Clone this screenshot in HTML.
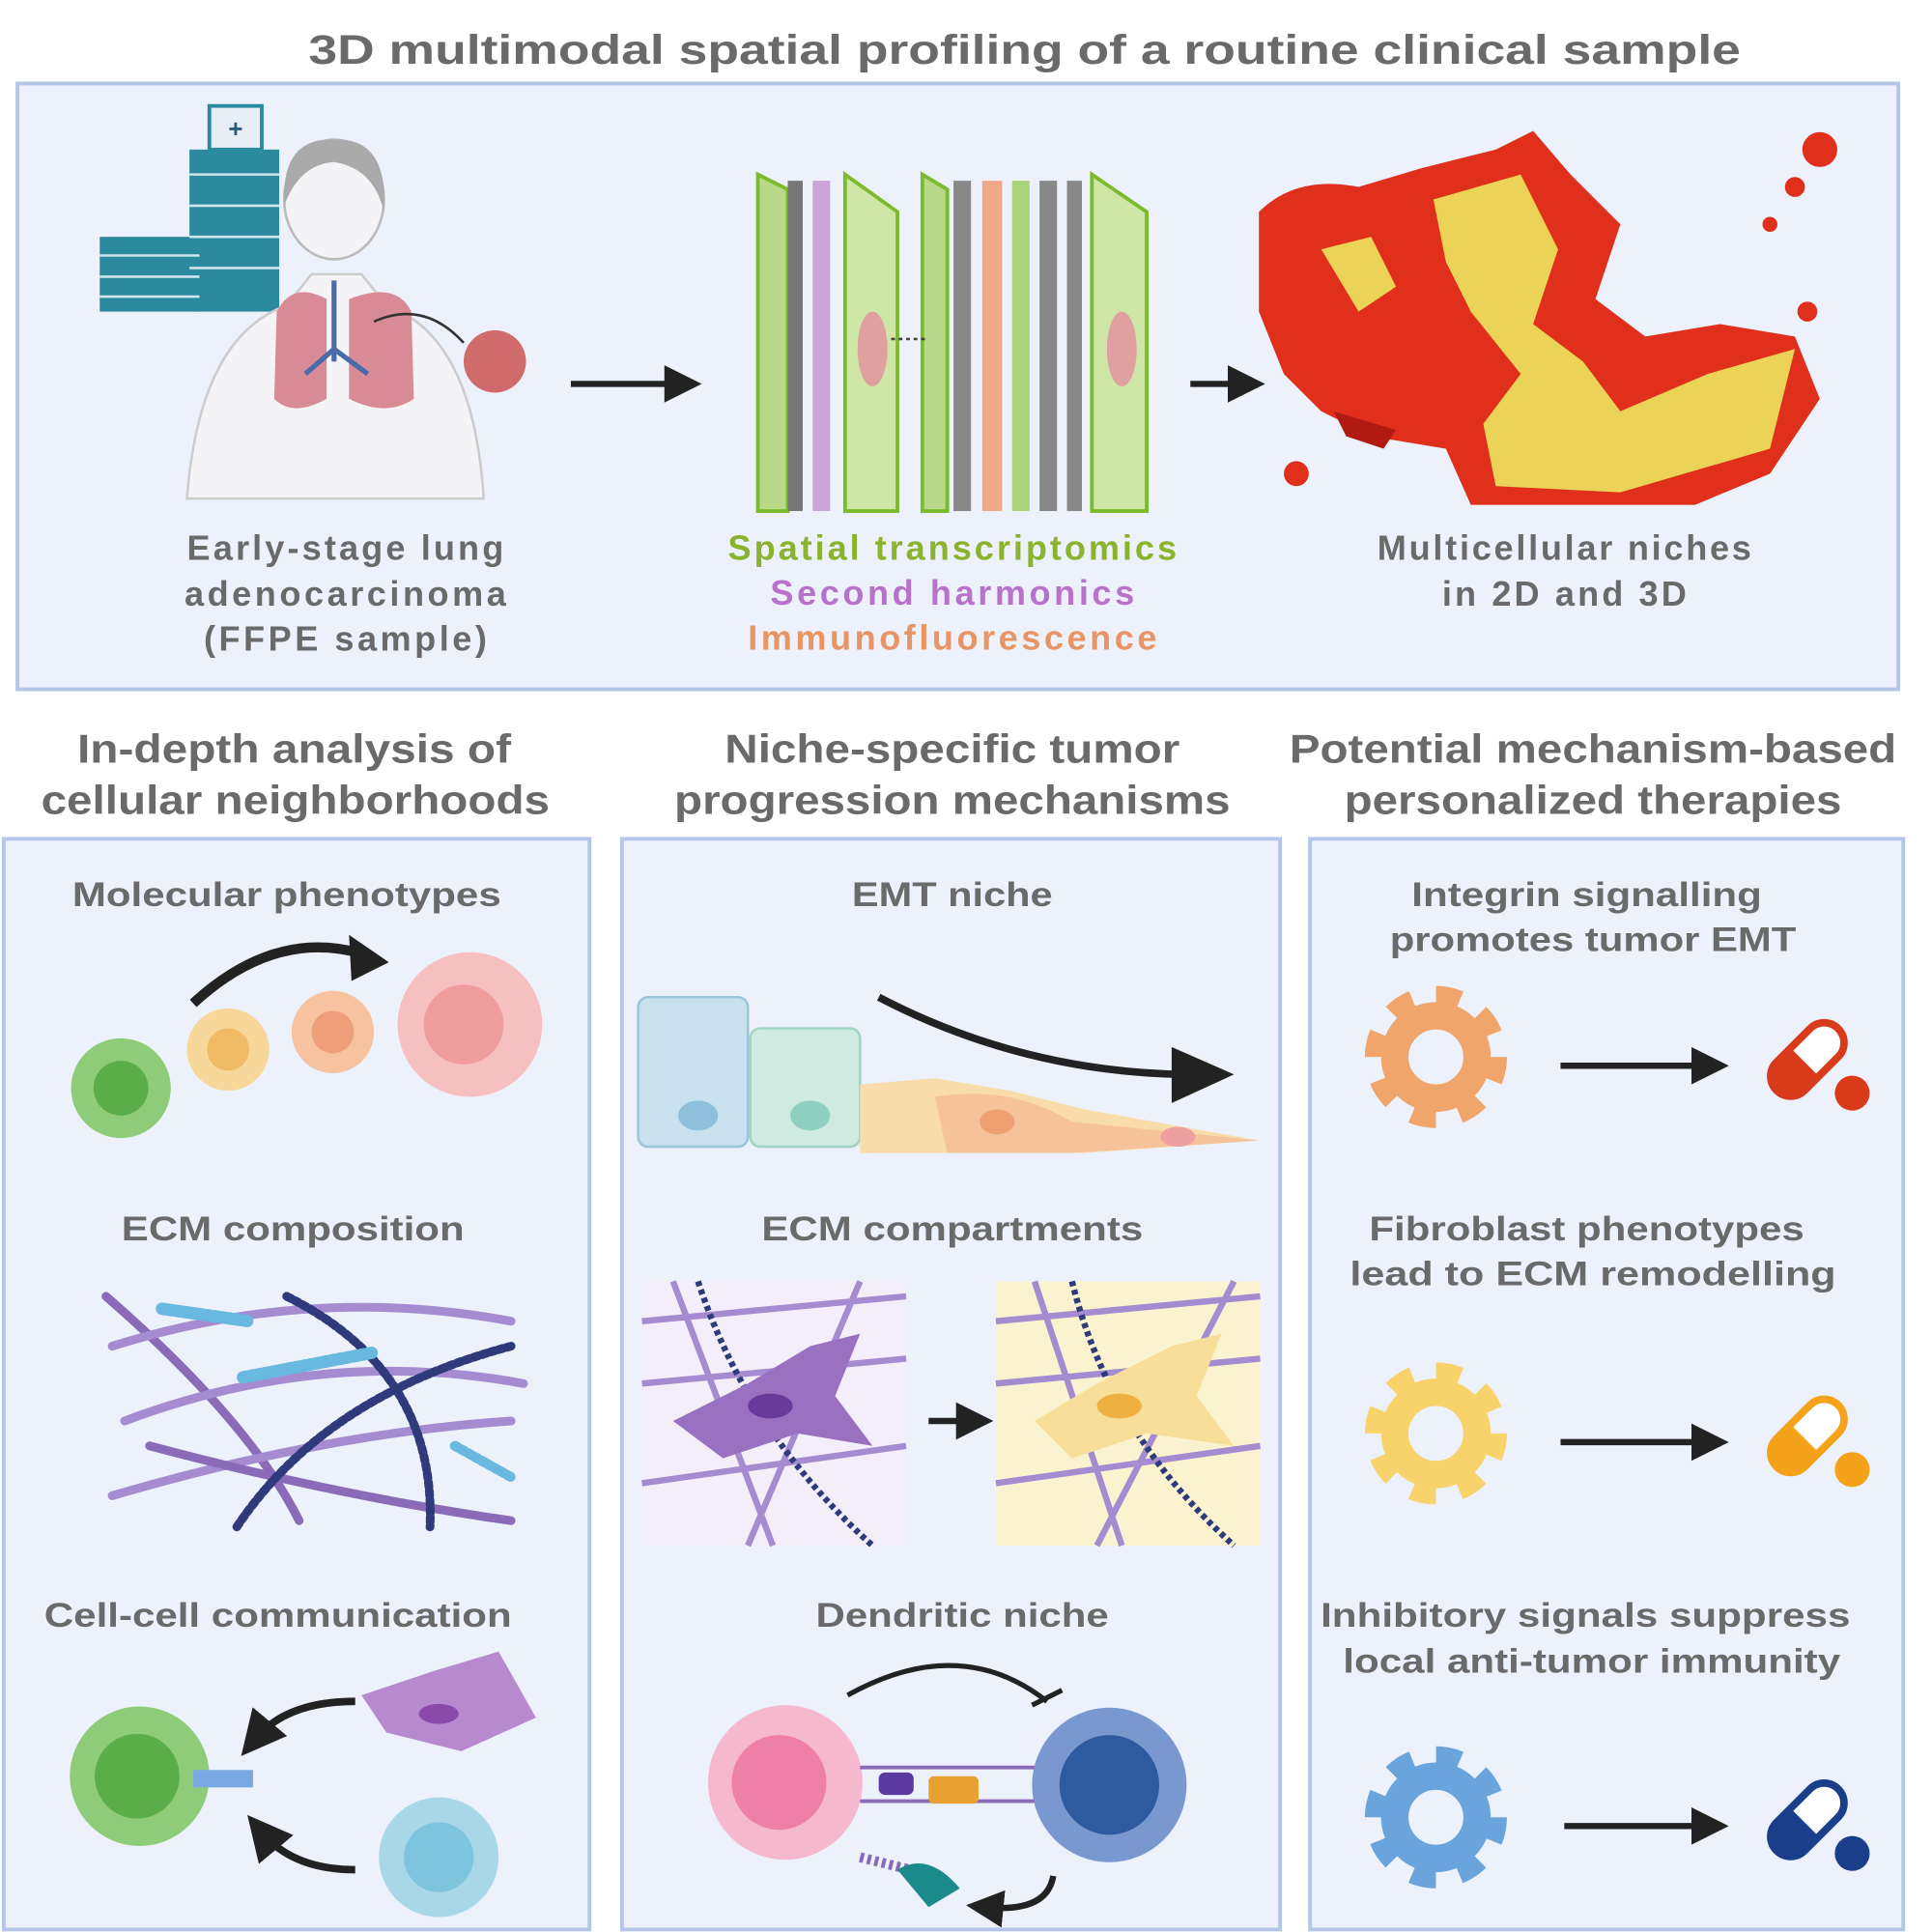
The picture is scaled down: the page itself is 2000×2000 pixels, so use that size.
<!DOCTYPE html>
<html><head><meta charset="utf-8"><style>
html,body{margin:0;padding:0;background:#fff;width:2000px;height:2000px;overflow:hidden}
svg{display:block}
text{font-family:"Liberation Sans",sans-serif;font-weight:bold;fill:#6a6a6a;text-anchor:middle}
</style></head><body>
<svg width="2000" height="2000" viewBox="0 0 1550 1550" xmlns="http://www.w3.org/2000/svg">
<defs>
<marker id="ah" markerWidth="6" markerHeight="6" refX="3" refY="3" orient="auto" markerUnits="strokeWidth"><path d="M0,0 L6,3 L0,6 z" fill="#222"/></marker>
</defs>
<text x="822" y="51" font-size="33" textLength="1149" lengthAdjust="spacingAndGlyphs">3D multimodal spatial profiling of a routine clinical sample</text>
<rect x="14" y="67" width="1509" height="486" fill="#ecf1fb" stroke="#b3c5e8" stroke-width="3"/>

<!-- hospital -->
<rect x="80" y="190" width="80" height="60" fill="#2b8a9e"/>
<rect x="152" y="120" width="72" height="130" fill="#2b8a9e"/>
<rect x="168" y="85" width="42" height="35" fill="#e8eef8" stroke="#2b8a9e" stroke-width="3"/>
<text x="189" y="110" font-size="20" style="fill:#2b5a7a">+</text>
<g stroke="#cfe6ee" stroke-width="2"><line x1="80" y1="205" x2="160" y2="205"/><line x1="80" y1="222" x2="160" y2="222"/><line x1="80" y1="238" x2="160" y2="238"/><line x1="152" y1="140" x2="224" y2="140"/><line x1="152" y1="165" x2="224" y2="165"/><line x1="152" y1="190" x2="224" y2="190"/><line x1="152" y1="215" x2="224" y2="215"/></g>
<!-- person -->
<path d="M150,400 Q160,270 230,245 L250,220 L290,220 L310,245 Q380,270 388,400 Z" fill="#f4f4f6" stroke="#ccc" stroke-width="2"/>
<ellipse cx="268" cy="160" rx="40" ry="48" fill="#f4f4f6" stroke="#bbb" stroke-width="2"/>
<path d="M228,165 Q225,110 268,112 Q312,110 308,170 Q300,135 268,130 Q240,132 228,165Z" fill="#aaa"/>
<path d="M222,250 Q235,225 262,240 L262,320 Q235,335 220,320 Z" fill="#d88a96"/>
<path d="M330,250 Q318,225 280,240 L280,320 Q310,335 332,320 Z" fill="#d88a96"/>
<path d="M268,225 L268,290 M268,280 L245,300 M268,280 L295,300" stroke="#4a6aaa" stroke-width="4" fill="none"/>
<path d="M300,258 Q340,240 372,275" stroke="#333" stroke-width="2" fill="none"/>
<circle cx="397" cy="290" r="25" fill="#cf6b6b"/>
<line x1="458" y1="308" x2="548" y2="308" stroke="#222" stroke-width="5" marker-end="url(#ah)"/>
<!-- slides -->
<g>
<polygon points="608,140 632,152 632,410 608,410" fill="#b8d98a" stroke="#7cbc2c" stroke-width="3"/>
<rect x="632" y="145" width="12" height="265" fill="#777"/>
<rect x="652" y="145" width="14" height="265" fill="#c9a4d8"/>
<polygon points="678,140 720,170 720,410 678,410" fill="#cfe7a6" stroke="#7cbc2c" stroke-width="3"/>
<ellipse cx="700" cy="280" rx="12" ry="30" fill="#e0a0a0"/>
<polygon points="740,140 760,152 760,410 740,410" fill="#b8d98a" stroke="#7cbc2c" stroke-width="3"/>
<rect x="765" y="145" width="14" height="265" fill="#888"/>
<rect x="788" y="145" width="16" height="265" fill="#eeaa88"/>
<rect x="812" y="145" width="14" height="265" fill="#a9d47a"/>
<rect x="834" y="145" width="14" height="265" fill="#888"/>
<rect x="856" y="145" width="12" height="265" fill="#888"/>
<polygon points="876,140 920,170 920,410 876,410" fill="#cfe7a6" stroke="#7cbc2c" stroke-width="3"/>
<ellipse cx="900" cy="280" rx="12" ry="30" fill="#e0a0a0"/>
<line x1="715" y1="272" x2="742" y2="272" stroke="#444" stroke-width="2" stroke-dasharray="3 3"/>
</g>
<line x1="955" y1="308" x2="1000" y2="308" stroke="#222" stroke-width="5" marker-end="url(#ah)"/>
<!-- 3D niche -->
<g>
<path d="M1010,170 Q1040,140 1090,150 L1140,135 L1200,120 L1230,105 L1260,140 L1300,180 L1280,240 L1320,270 L1380,260 L1440,270 L1460,320 L1420,380 L1360,405 L1180,405 L1160,360 L1100,350 L1060,330 L1030,300 L1010,250 Z" fill="#e0301c"/>
<path d="M1150,160 L1220,140 L1250,200 L1230,260 L1270,290 L1300,330 L1370,300 L1440,280 L1420,360 L1300,395 L1200,390 L1190,340 L1220,300 L1180,250 L1160,210 Z" fill="#ead357"/>
<path d="M1060,200 L1100,190 L1120,230 L1090,250 Z" fill="#ead357"/>
<path d="M1070,330 L1120,345 L1110,360 L1080,350Z" fill="#b01a10"/>
<circle cx="1040" cy="380" r="10" fill="#e0301c"/>
<circle cx="1460" cy="120" r="14" fill="#e0301c"/>
<circle cx="1440" cy="150" r="8" fill="#e0301c"/>
<circle cx="1420" cy="180" r="6" fill="#e0301c"/>
<circle cx="1450" cy="250" r="8" fill="#e0301c"/>
</g>
<g font-size="28" lengthAdjust="spacingAndGlyphs">
<text x="277" y="449" textLength="254">Early-stage lung</text>
<text x="277" y="486" textLength="258">adenocarcinoma</text>
<text x="277" y="522" textLength="227">(FFPE sample)</text>
<text x="764" y="449" textLength="360" style="fill:#8ab42e">Spatial transcriptomics</text>
<text x="764" y="485" textLength="292" style="fill:#b872cc">Second harmonics</text>
<text x="764" y="521" textLength="328" style="fill:#e89463">Immunofluorescence</text>
<text x="1255" y="449" textLength="300">Multicellular niches</text>
<text x="1255" y="486" textLength="196">in 2D and 3D</text>
</g>

<g font-size="32">
<text x="236" y="612" textLength="348" lengthAdjust="spacingAndGlyphs">In-depth analysis of</text>
<text x="237" y="653" textLength="408" lengthAdjust="spacingAndGlyphs">cellular neighborhoods</text>
<text x="764" y="612" textLength="365" lengthAdjust="spacingAndGlyphs">Niche-specific tumor</text>
<text x="764" y="653" textLength="446" lengthAdjust="spacingAndGlyphs">progression mechanisms</text>
<text x="1278" y="612" textLength="487" lengthAdjust="spacingAndGlyphs">Potential mechanism-based</text>
<text x="1278" y="653" textLength="399" lengthAdjust="spacingAndGlyphs">personalized therapies</text>
</g>
<rect x="3" y="673" width="470" height="875" fill="#ecf1fb" stroke="#b3c5e8" stroke-width="3"/>
<rect x="499" y="673" width="528" height="875" fill="#ecf1fb" stroke="#b3c5e8" stroke-width="3"/>
<rect x="1051" y="673" width="476" height="875" fill="#ecf1fb" stroke="#b3c5e8" stroke-width="3"/>

<g font-size="27">
<text x="230" y="727" textLength="344" lengthAdjust="spacingAndGlyphs">Molecular phenotypes</text>
<text x="235" y="995" textLength="275" lengthAdjust="spacingAndGlyphs">ECM composition</text>
<text x="223" y="1305" textLength="375" lengthAdjust="spacingAndGlyphs">Cell-cell communication</text>
<text x="764" y="727" textLength="161" lengthAdjust="spacingAndGlyphs">EMT niche</text>
<text x="764" y="995" textLength="306" lengthAdjust="spacingAndGlyphs">ECM compartments</text>
<text x="772" y="1305" textLength="235" lengthAdjust="spacingAndGlyphs">Dendritic niche</text>
<text x="1273" y="727" textLength="281" lengthAdjust="spacingAndGlyphs">Integrin signalling</text>
<text x="1278" y="763" textLength="326" lengthAdjust="spacingAndGlyphs">promotes tumor EMT</text>
<text x="1273" y="995" textLength="349" lengthAdjust="spacingAndGlyphs">Fibroblast phenotypes</text>
<text x="1278" y="1031" textLength="390" lengthAdjust="spacingAndGlyphs">lead to  ECM remodelling</text>
<text x="1272" y="1305" textLength="425" lengthAdjust="spacingAndGlyphs">Inhibitory signals suppress</text>
<text x="1277" y="1342" textLength="399" lengthAdjust="spacingAndGlyphs">local anti-tumor immunity</text>
</g>

<!-- left: molecular phenotypes -->
<circle cx="97" cy="873" r="40" fill="#8fcc7a"/><circle cx="97" cy="873" r="22" fill="#5aad48"/>
<circle cx="183" cy="842" r="33" fill="#f7d79a"/><circle cx="183" cy="842" r="17" fill="#f1bb66"/>
<circle cx="267" cy="828" r="33" fill="#f6c2a0"/><circle cx="267" cy="828" r="17" fill="#ee9e78"/>
<circle cx="377" cy="822" r="58" fill="#f6c0c0"/><circle cx="372" cy="822" r="32" fill="#ee9c9c"/>
<path d="M155,805 Q220,745 290,765" stroke="#222" stroke-width="8" fill="none"/>
<polygon points="280,750 312,772 282,787" fill="#222"/>
<!-- ECM composition -->
<g fill="none" stroke-width="7" stroke-linecap="round">
<path d="M85,1040 Q200,1140 240,1220" stroke="#8a6bb8"/>
<path d="M90,1080 Q250,1030 410,1060" stroke="#a58bd0"/>
<path d="M100,1140 Q260,1080 420,1110" stroke="#a58bd0"/>
<path d="M90,1200 Q260,1150 410,1140" stroke="#a58bd0"/>
<path d="M120,1160 Q270,1200 410,1220" stroke="#8a6bb8"/>
<path d="M230,1040 Q350,1100 345,1225" stroke="#2f3a7a" stroke-dasharray="4 3"/>
<path d="M190,1225 Q260,1120 410,1080" stroke="#2f3a7a" stroke-dasharray="4 3"/>
<path d="M130,1050 L200,1060" stroke="#68b8e0" stroke-width="10" stroke-dasharray="3 3"/>
<path d="M195,1105 L300,1085" stroke="#68b8e0" stroke-width="10" stroke-dasharray="3 3"/>
<path d="M365,1160 L410,1185" stroke="#68b8e0" stroke-width="8" stroke-dasharray="3 3"/>
</g>
<!-- cell-cell -->
<circle cx="112" cy="1425" r="56" fill="#8fcc7a"/><circle cx="110" cy="1425" r="34" fill="#5aad48"/>
<rect x="155" y="1420" width="48" height="14" fill="#7aa8e0"/>
<path d="M290,1360 L350,1340 L400,1325 L430,1378 L370,1405 L310,1390 Z" fill="#b78ad0"/>
<ellipse cx="352" cy="1375" rx="16" ry="8" fill="#8a4aaa"/>
<circle cx="352" cy="1490" r="48" fill="#a8d8e8"/><circle cx="352" cy="1490" r="28" fill="#7ec4dc"/>
<path d="M285,1365 Q230,1365 205,1395" stroke="#222" stroke-width="6" fill="none" marker-end="url(#ah)"/>
<path d="M285,1500 Q235,1500 210,1470" stroke="#222" stroke-width="6" fill="none" marker-end="url(#ah)"/>

<!-- EMT niche -->
<rect x="512" y="800" width="88" height="120" rx="8" fill="#c9e0ee" stroke="#9cc6dc" stroke-width="2"/>
<ellipse cx="560" cy="895" rx="16" ry="12" fill="#8ec0dc"/>
<rect x="602" y="825" width="88" height="95" rx="8" fill="#cfeae0" stroke="#a2d4c4" stroke-width="2"/>
<ellipse cx="650" cy="895" rx="16" ry="12" fill="#8ed0c0"/>
<path d="M690,870 L750,865 L810,875 L870,890 L1010,915 L870,925 L760,925 L690,925 Z" fill="#f8dcaa"/>
<path d="M750,880 Q810,870 860,900 L1010,915 L860,925 L760,925Z" fill="#f5c29a"/>
<ellipse cx="800" cy="900" rx="14" ry="10" fill="#eea070"/>
<ellipse cx="945" cy="912" rx="14" ry="8" fill="#eea0a0"/>
<path d="M705,800 Q820,860 950,862" stroke="#222" stroke-width="6" fill="none"/>
<polygon points="940,840 990,862 940,885" fill="#222"/>
<!-- ECM compartments -->
<rect x="515" y="1028" width="212" height="212" fill="#f4eefa"/>
<rect x="799" y="1028" width="212" height="212" fill="#fbf3d0"/>
<g fill="none" stroke-width="5">
<path d="M515,1060 L727,1040 M515,1110 L727,1090 M515,1190 L727,1160 M540,1028 L620,1240 M690,1028 L600,1240" stroke="#a58bd0"/>
<path d="M799,1060 L1011,1040 M799,1110 L1011,1090 M799,1190 L1011,1160 M830,1028 L900,1240 M990,1028 L880,1240" stroke="#a58bd0"/>
<path d="M560,1028 Q600,1150 700,1240 M860,1028 Q890,1150 990,1240" stroke="#2f3a7a" stroke-dasharray="4 3"/>
</g>
<path d="M540,1140 L600,1110 L650,1080 L690,1070 L670,1120 L700,1160 L640,1150 L580,1170 Z" fill="#9a70c0"/>
<ellipse cx="618" cy="1128" rx="18" ry="10" fill="#6a3a9a"/>
<path d="M830,1140 L880,1110 L940,1080 L980,1070 L960,1120 L990,1160 L920,1150 L860,1170 Z" fill="#f7df9a"/>
<ellipse cx="898" cy="1128" rx="18" ry="10" fill="#eeb040"/>
<line x1="745" y1="1140" x2="782" y2="1140" stroke="#222" stroke-width="5" marker-end="url(#ah)"/>
<!-- Dendritic niche -->
<circle cx="630" cy="1430" r="62" fill="#f6b8cc"/><circle cx="625" cy="1430" r="38" fill="#ee80a8"/>
<circle cx="890" cy="1432" r="62" fill="#7a98d0"/><circle cx="890" cy="1432" r="40" fill="#2e5aa0"/>
<path d="M690,1418 L830,1418 M690,1445 L830,1445" stroke="#8a6bb8" stroke-width="3"/>
<rect x="705" y="1422" width="28" height="18" rx="5" fill="#5a3aa0"/>
<rect x="745" y="1425" width="40" height="22" rx="4" fill="#e8a030"/>
<path d="M690,1490 L730,1500" stroke="#8a6bb8" stroke-width="8" stroke-dasharray="3 3"/>
<path d="M720,1500 Q745,1485 770,1515 L745,1530 Z" fill="#1a8a8a"/>
<path d="M680,1360 Q770,1310 840,1365" stroke="#222" stroke-width="4" fill="none"/>
<line x1="828" y1="1368" x2="852" y2="1356" stroke="#222" stroke-width="4"/>
<path d="M845,1505 Q840,1535 790,1530" stroke="#222" stroke-width="5" fill="none" marker-end="url(#ah)"/>

<!-- gears & pills -->
<circle cx="1152" cy="848" r="48" fill="none" stroke="#f0a56a" stroke-width="18" stroke-dasharray="19 18.7"/>
<circle cx="1152" cy="848" r="33" fill="none" stroke="#f0a56a" stroke-width="22"/>
<circle cx="1152" cy="1150" r="48" fill="none" stroke="#f8d26a" stroke-width="18" stroke-dasharray="19 18.7"/>
<circle cx="1152" cy="1150" r="33" fill="none" stroke="#f8d26a" stroke-width="22"/>
<circle cx="1152" cy="1458" r="48" fill="none" stroke="#6aa4dc" stroke-width="18" stroke-dasharray="19 18.7"/>
<circle cx="1152" cy="1458" r="33" fill="none" stroke="#6aa4dc" stroke-width="22"/>
<line x1="1252" y1="855" x2="1372" y2="855" stroke="#222" stroke-width="5" marker-end="url(#ah)"/>
<line x1="1252" y1="1157" x2="1372" y2="1157" stroke="#222" stroke-width="5" marker-end="url(#ah)"/>
<line x1="1255" y1="1465" x2="1372" y2="1465" stroke="#222" stroke-width="5" marker-end="url(#ah)"/>
<g transform="translate(1450,850) rotate(-45)">
<rect x="-35" y="-16" width="70" height="32" rx="16" fill="#fff" stroke="#d93a1a" stroke-width="6"/>
<path d="M-35,0 a16,16 0 0 1 16,-16 h16 v32 h-16 a16,16 0 0 1 -16,-16z" fill="#d93a1a"/>
</g>
<circle cx="1486" cy="877" r="14" fill="#d93a1a"/>
<g transform="translate(1450,1152) rotate(-45)">
<rect x="-35" y="-16" width="70" height="32" rx="16" fill="#fff" stroke="#f3a21a" stroke-width="6"/>
<path d="M-35,0 a16,16 0 0 1 16,-16 h16 v32 h-16 a16,16 0 0 1 -16,-16z" fill="#f3a21a"/>
</g>
<circle cx="1486" cy="1179" r="14" fill="#f3a21a"/>
<g transform="translate(1450,1460) rotate(-45)">
<rect x="-35" y="-16" width="70" height="32" rx="16" fill="#fff" stroke="#1a3e8a" stroke-width="6"/>
<path d="M-35,0 a16,16 0 0 1 16,-16 h16 v32 h-16 a16,16 0 0 1 -16,-16z" fill="#1a3e8a"/>
</g>
<circle cx="1486" cy="1487" r="14" fill="#1a3e8a"/>
</svg>
</body></html>
